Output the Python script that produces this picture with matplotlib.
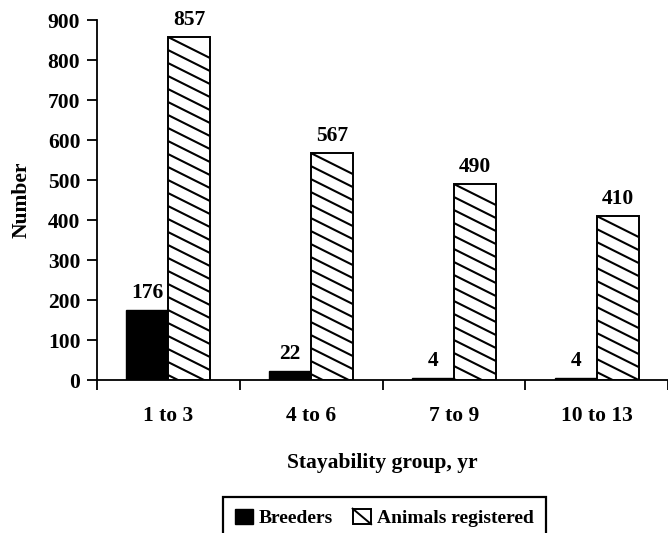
import matplotlib
matplotlib.use('Agg')
import matplotlib.pyplot as plt
from matplotlib.patches import Rectangle, Patch
from matplotlib.legend_handler import HandlerBase
from matplotlib.lines import Line2D
import numpy as np

categories = ['1 to 3', '4 to 6', '7 to 9', '10 to 13']
breeders = [176, 22, 4, 4]
registered = [857, 567, 490, 410]
series_names = ['Breeders', 'Animals registered']
y_ticks = [0, 100, 200, 300, 400, 500, 600, 700, 800, 900]

plt.rcParams['font.family'] = ['Liberation Serif', 'DejaVu Serif']
plt.rcParams['font.weight'] = 'bold'

FS = 15.5

W, H = 668, 533
fig = plt.figure(figsize=(W / 100, H / 100), dpi=100)
ax_l, ax_r, ax_t, ax_b = 97, 668, 20, 380
ax = fig.add_axes([ax_l / W, 1 - ax_b / H, (ax_r - ax_l) / W, (ax_b - ax_t) / H])

x = np.arange(len(categories))
bw = 0.295
b1 = ax.bar(x - bw / 2, breeders, bw, color='black', edgecolor='black', lw=1.0, zorder=3)
b2 = ax.bar(x + bw / 2, registered, bw, color='white', edgecolor='black', lw=1.4, zorder=3)
ax.set_xlim(-0.5, len(categories) - 0.5)
ax.set_ylim(0, 900)

# custom hatch (shallow diagonal lines) clipped to each bar
sx = (ax_r - ax_l) / len(categories)   # px per x unit
sy = (ax_b - ax_t) / 900.0             # px per y unit
slope = -0.5 * sx / sy
spacing = 13.0 / sy
for rect in b2:
    x0, w, h = rect.get_x(), rect.get_width(), rect.get_height()
    cs = np.arange(h, -slope * w - spacing * 2, -spacing)
    for c in cs:
        ln, = ax.plot([x0, x0 + w], [c, c + slope * w], color='black', lw=1.5,
                      zorder=3.5, solid_capstyle='butt')
        ln.set_clip_path(rect)

# value labels
for xi, v in zip(x - bw / 2, breeders):
    ax.annotate(str(v), (xi, v), xytext=(0, 5), textcoords='offset points',
                ha='center', va='bottom', fontsize=FS, fontweight='bold')
for xi, v in zip(x + bw / 2, registered):
    ax.annotate(str(v), (xi, v), xytext=(0, 5), textcoords='offset points',
                ha='center', va='bottom', fontsize=FS, fontweight='bold')

for s in ['top', 'right']:
    ax.spines[s].set_visible(False)
for s in ['left', 'bottom']:
    ax.spines[s].set_linewidth(1.3)

ax.set_yticks(y_ticks)
ax.tick_params(axis='y', direction='out', length=7, width=1.3, pad=5, labelsize=FS)
ax.set_xticks(np.arange(-0.5, len(categories), 1.0))
ax.set_xticklabels([])
ax.set_xticks(x, minor=True)
ax.set_xticklabels(categories, minor=True)
ax.tick_params(axis='x', which='major', direction='out', length=7, width=1.3)
ax.tick_params(axis='x', which='minor', length=0, pad=19, labelsize=FS)
for lab in ax.get_xticklabels(minor=True) + ax.get_yticklabels():
    lab.set_fontweight('bold')

ax.set_ylabel('Number', fontsize=FS, fontweight='bold')
ax.yaxis.set_label_coords(-0.114, 0.5)
ax.set_xlabel('Stayability group, yr', fontsize=FS, fontweight='bold')
ax.xaxis.set_label_coords(0.5, -0.203)


class HatchHandler(HandlerBase):
    def create_artists(self, legend, orig_handle, xdescent, ydescent, width, height,
                       fontsize, trans):
        r = Rectangle((-xdescent, -ydescent), width, height, facecolor='white',
                      edgecolor='black', lw=1.4, transform=trans)
        l = Line2D([-xdescent, -xdescent + width], [-ydescent + height, -ydescent],
                   color='black', lw=1.4, transform=trans)
        return [r, l]


h1 = Patch(facecolor='black', edgecolor='black')
h2 = Patch(facecolor='white', edgecolor='black')
leg = fig.legend([h1, h2], series_names, loc='upper left',
                 bbox_to_anchor=(223 / W, 1 - 497 / H), ncol=2, frameon=True,
                 fancybox=False, edgecolor='black', framealpha=1,
                 prop={'size': 14, 'weight': 'bold'},
                 handlelength=0.95, handleheight=0.85, handletextpad=0.3,
                 columnspacing=1.0, borderpad=0.6, borderaxespad=0,
                 handler_map={h2: HatchHandler()})
leg.get_frame().set_linewidth(1.6)

fig.savefig('out.png', dpi=100)
